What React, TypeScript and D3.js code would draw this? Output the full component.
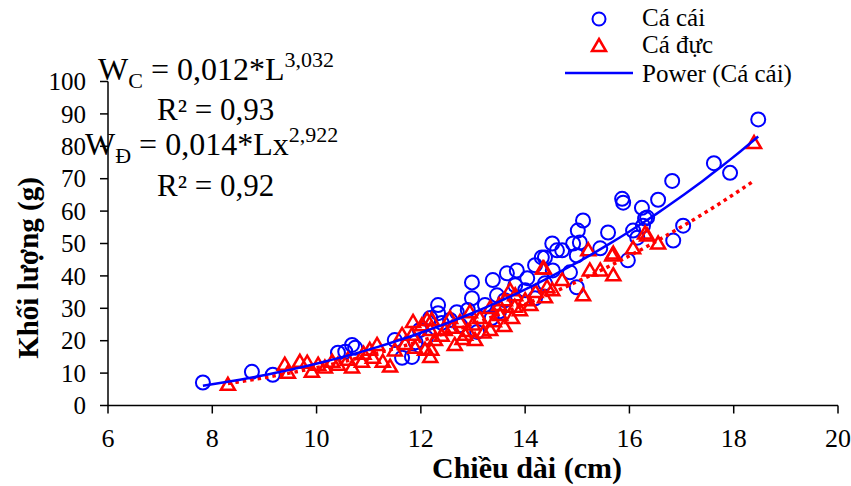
import React from 'react';
import * as d3 from 'd3';

// Cá cái (female): length (cm), weight (g)
const femaleLength = [
  7.82, 8.76, 9.16, 10.41, 10.55, 10.68, 10.74, 11.5, 11.64, 11.83, 12.33, 12.33, 12.98, 13.38,
  13.65, 13.84, 12.98, 12.69, 14.04, 13.08, 13.46, 14.19, 14.32, 14.52, 14.61, 15.86, 15.88,
  16.24, 15.11, 15.01, 15.59, 14.71, 14.92, 15.05, 14.99, 16.07, 16.26, 16.34, 15.97, 14.99,
  14.38, 14.53, 14.86, 18.47, 17.62, 17.93, 16.82, 16.55, 16.3, 17.03, 16.84, 16.15, 15.44,
  11.98, 12.18, 12.56, 12.75, 13.23, 13.61, 13.81, 14.0, 14.19, 14.38, 13.36, 12.4, 12.9, 13.5,
  11.9, 12.1,
];
const femaleWeight = [
  7.1, 10.4, 9.5, 16.3, 16.6, 18.7, 17.8, 20.2, 14.7, 15.0, 31.0, 28.5, 38.0, 38.7,
  40.8, 41.7, 33.1, 28.8, 39.3, 22.7, 34.0, 43.3, 45.7, 50.0, 47.9, 63.8, 62.6,
  61.0, 57.1, 54.0, 53.4, 47.9, 50.0, 50.3, 46.3, 54.0, 55.5, 58.0, 44.8, 36.5,
  45.7, 41.7, 41.1, 88.3, 74.8, 71.8, 69.3, 63.5, 57.7, 55.5, 50.9, 51.8, 48.5,
  23.3, 27.0, 26.4, 24.8, 31.0, 32.5, 37.1, 35.6, 33.1, 37.7, 27.0, 25.5, 29.5, 29.0,
  19.5, 21.0,
];

// Cá đực (male): length (cm), weight (g)
const maleLength = [
  8.3, 9.39, 9.45, 9.68, 9.82, 9.91, 10.03, 10.16, 10.3, 10.41, 10.6, 10.68, 10.87, 11.02,
  11.16, 11.08, 11.27, 11.41, 11.64, 11.85, 11.83, 11.89, 12.02, 12.12, 12.18, 12.08, 12.18,
  12.27, 12.21, 12.46, 12.56, 12.75, 12.85, 12.94, 13.13, 13.33, 13.33, 13.52, 13.61, 13.75,
  13.9, 14.0, 13.81, 12.65, 13.04, 12.2, 14.36, 13.71, 15.21, 15.67, 16.07, 16.3, 14.34,
  15.24, 15.44, 15.69, 15.11, 14.71, 14.42, 14.52, 14.38, 18.39, 16.55, 16.34, 15.69,
  12.4, 12.6, 12.8, 13.0, 13.2, 13.4, 13.6, 13.8, 14.1, 14.2, 11.5, 11.7, 10.9, 12.9, 13.5,
];
const maleWeight = [
  6.4, 12.6, 10.1, 13.5, 13.2, 10.4, 12.6, 11.7, 13.5, 12.6, 14.1, 11.7, 13.5, 17.2,
  18.7, 14.7, 13.5, 12.0, 21.8, 25.8, 21.8, 17.8, 24.8, 26.4, 23.3, 17.2, 15.0,
  20.2, 26.4, 23.3, 27.0, 25.8, 21.8, 28.8, 27.0, 30.1, 23.3, 27.9, 32.5, 27.0,
  29.4, 32.5, 34.0, 18.7, 20.2, 17.2, 42.3, 35.6, 47.9, 46.3, 48.5, 53.1, 42.3,
  41.7, 41.7, 40.2, 34.0, 38.7, 36.5, 35.6, 33.4, 81.0, 50.0, 52.5, 46.9,
  21.5, 24.0, 20.5, 25.0, 22.5, 26.0, 24.5, 30.5, 31.0, 35.0, 17.0, 19.0, 16.0, 23.0, 31.0,
];

// power trendlines shown on the chart
const femaleFit = { a: 0.012, b: 3.032, from: 7.82, to: 18.47 };
const maleFit = { a: 0.014, b: 2.922, from: 8.3, to: 18.39 };

const xTicks = [6, 8, 10, 12, 14, 16, 18, 20];
const yTicks = [0, 10, 20, 30, 40, 50, 60, 70, 80, 90, 100];

const FONT = '"Liberation Serif", "Times New Roman", serif';
const BLUE = '#0000FF';
const RED = '#FF0000';

const trianglePath = 'M0,-7L7,5L-7,5Z';

export default function App() {
  const x = d3.scaleLinear().domain([6, 20]).range([108, 838]);
  const y = d3.scaleLinear().domain([0, 100]).range([405.5, 81.5]);

  const fitLine = (fit: { a: number; b: number; from: number; to: number }) => {
    const xs = d3.range(0, 61).map((i) => fit.from + ((fit.to - fit.from) * i) / 60);
    return d3
      .line<number>()
      .x((v) => x(v))
      .y((v) => y(fit.a * Math.pow(v, fit.b)))(xs) as string;
  };

  return (
    <svg
      width={851}
      height={486}
      style={{ position: 'absolute', left: 0, top: 0, background: '#fff' }}
      fontFamily={FONT}
    >
      {/* axes */}
      <line x1={x(6)} x2={x(20)} y1={y(0)} y2={y(0)} stroke="#000" strokeWidth={1.5} />
      <line x1={x(6)} x2={x(6)} y1={y(0)} y2={y(100)} stroke="#000" strokeWidth={1.5} />
      {xTicks.map((t) => (
        <g key={'x' + t}>
          <line x1={x(t)} x2={x(t)} y1={y(0)} y2={y(0) + 8} stroke="#000" strokeWidth={1.5} />
          <text x={x(t)} y={447} fontSize={26} textAnchor="middle">
            {t}
          </text>
        </g>
      ))}
      {yTicks.map((t) => (
        <g key={'y' + t}>
          <line x1={x(6) - 8} x2={x(6)} y1={y(t)} y2={y(t)} stroke="#000" strokeWidth={1.5} />
          <text x={86} y={y(t)} dy="0.35em" fontSize={25} textAnchor="end">
            {t}
          </text>
        </g>
      ))}

      {/* axis titles */}
      <text x={527} y={478} fontSize={30} fontWeight="bold" textAnchor="middle">
        Chiều dài (cm)
      </text>
      <text
        transform="translate(38,268) rotate(-90)"
        fontSize={29}
        fontWeight="bold"
        textAnchor="middle"
      >
        Khối lượng (g)
      </text>

      {/* points */}
      {femaleLength.map((l, i) => (
        <circle
          key={'f' + i}
          cx={x(l)}
          cy={y(femaleWeight[i])}
          r={7}
          fill="none"
          stroke={BLUE}
          strokeWidth={2}
        />
      ))}
      {maleLength.map((l, i) => (
        <path
          key={'m' + i}
          d={trianglePath}
          transform={`translate(${x(l)},${y(maleWeight[i])})`}
          fill="none"
          stroke={RED}
          strokeWidth={2.5}
        />
      ))}

      {/* trendlines */}
      <path
        d={fitLine(maleFit)}
        fill="none"
        stroke={RED}
        strokeWidth={3.5}
        strokeDasharray="3.5 4"
      />
      <path d={fitLine(femaleFit)} fill="none" stroke={BLUE} strokeWidth={2.5} />

      {/* equations */}
      <text x={98} y={80} fontSize={32}>
        W<tspan fontSize={22} dy={8}>C</tspan>
        <tspan dy={-8}> = 0,012*L</tspan>
        <tspan fontSize={22} dy={-13}>3,032</tspan>
      </text>
      <text x={157} y={120} fontSize={31}>
        R² = 0,93
      </text>
      <text x={85} y={155} fontSize={32}>
        W<tspan fontSize={22} dy={8}>Đ</tspan>
        <tspan dy={-8}> = 0,014*Lx</tspan>
        <tspan fontSize={22} dy={-13}>2,922</tspan>
      </text>
      <text x={157} y={196} fontSize={31}>
        R² = 0,92
      </text>

      {/* legend */}
      <circle cx={599} cy={19} r={6.5} fill="none" stroke={BLUE} strokeWidth={2} />
      <text x={642} y={26} fontSize={25}>
        Cá cái
      </text>
      <path d={trianglePath} transform="translate(599,46)" fill="none" stroke={RED} strokeWidth={2.5} />
      <text x={642} y={53} fontSize={25}>
        Cá đực
      </text>
      <line x1={565} x2={633} y1={73} y2={73} stroke={BLUE} strokeWidth={2.5} />
      <text x={642} y={82} fontSize={25}>
        Power (Cá cái)
      </text>
    </svg>
  );
}
